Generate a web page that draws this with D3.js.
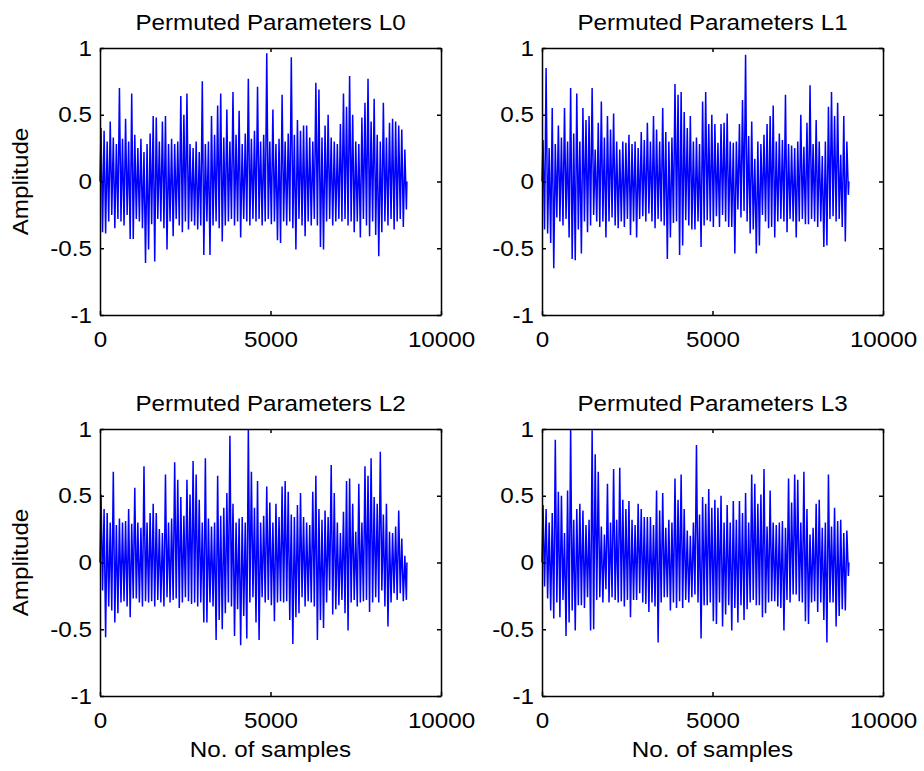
<!DOCTYPE html>
<html>
<head>
<meta charset="utf-8">
<script src="https://cdn.jsdelivr.net/npm/d3@7"></script>
<style>
  body { margin: 0; background: #fff; }
  text { font-family: "Liberation Sans", Arial, Helvetica, sans-serif; font-size: 22px; fill: #000; }
  .axis path, .axis line { stroke: #000; stroke-width: 1.5; }
</style>
</head>
<body>
<div id="chart"></div>
<script>
// Panel titles and axis labels
var titles = ["Permuted Parameters L0", "Permuted Parameters L1", "Permuted Parameters L2", "Permuted Parameters L3"];
var xLabel = "No. of samples", yLabel = "Amplitude";
var xTicks = [0, 5000, 10000];
var yTicks = [-1, -0.5, 0, 0.5, 1];

// Signal envelopes: one upward peak (hi) and one
// downward peak (lo) every 90 samples, 9000 samples in all.
var nSamples = 9000, spikeStep = 90;

var hiL0 = [0.40,0.38,0.30,0.45,0.33,0.28,0.70,0.32,0.47,0.30, 0.66,0.35,0.25,0.32,0.22,0.28,0.36,0.49,0.48,0.30,
            0.45,0.49,0.28,0.32,0.28,0.30,0.64,0.50,0.66,0.28, 0.25,0.30,0.22,0.75,0.28,0.30,0.49,0.35,0.57,0.66,
            0.33,0.54,0.30,0.67,0.35,0.53,0.28,0.36,0.77,0.32, 0.38,0.71,0.30,0.35,0.96,0.30,0.54,0.28,0.32,0.65,
            0.30,0.36,0.93,0.35,0.46,0.38,0.42,0.42,0.33,0.30, 0.74,0.69,0.33,0.42,0.50,0.33,0.30,0.28,0.43,0.66,
            0.56,0.79,0.50,0.30,0.28,0.48,0.59,0.77,0.45,0.62, 0.35,0.30,0.59,0.33,0.44,0.47,0.45,0.42,0.39,0.24];
var loL0 = [-0.38,-0.39,-0.30,-0.25,-0.35,-0.28,-0.30,-0.33,-0.25,-0.43, -0.43,-0.28,-0.30,-0.35,-0.61,-0.51,-0.32,-0.60,-0.28,-0.30,
            -0.35,-0.51,-0.30,-0.41,-0.28,-0.33,-0.38,-0.30,-0.36,-0.30, -0.33,-0.36,-0.33,-0.55,-0.30,-0.55,-0.33,-0.30,-0.35,-0.45,
            -0.33,-0.30,-0.28,-0.33,-0.30,-0.42,-0.28,-0.30,-0.33,-0.28, -0.30,-0.28,-0.33,-0.30,-0.28,-0.32,-0.30,-0.44,-0.46,-0.30,
            -0.33,-0.30,-0.35,-0.51,-0.28,-0.33,-0.41,-0.30,-0.33,-0.28, -0.33,-0.49,-0.51,-0.30,-0.28,-0.33,-0.30,-0.28,-0.30,-0.28,
            -0.33,-0.30,-0.38,-0.30,-0.42,-0.28,-0.33,-0.41,-0.30,-0.40, -0.56,-0.38,-0.30,-0.33,-0.28,-0.36,-0.30,-0.28,-0.34,-0.21];

var hiL1 = [0.31,0.85,0.25,0.55,0.28,0.42,0.33,0.55,0.30,0.70, 0.36,0.66,0.30,0.55,0.46,0.49,0.70,0.24,0.44,0.60,
            0.33,0.49,0.39,0.51,0.30,0.24,0.30,0.29,0.35,0.28, 0.30,0.25,0.37,0.31,0.44,0.30,0.49,0.39,0.30,0.55,
            0.37,0.30,0.33,0.73,0.65,0.67,0.52,0.40,0.49,0.30, 0.33,0.28,0.60,0.67,0.43,0.50,0.43,0.29,0.43,0.44,
            0.51,0.30,0.29,0.30,0.43,0.61,0.95,0.34,0.45,0.17, 0.30,0.28,0.35,0.43,0.49,0.57,0.30,0.36,0.31,0.65,
            0.28,0.27,0.25,0.30,0.50,0.26,0.44,0.72,0.28,0.46, 0.30,0.19,0.30,0.56,0.67,0.49,0.59,0.20,0.49,0.30];
var loL1 = [-0.36,-0.39,-0.46,-0.65,-0.27,-0.30,-0.33,-0.28,-0.42,-0.58, -0.59,-0.36,-0.54,-0.30,-0.38,-0.33,-0.25,-0.30,-0.34,-0.30,
            -0.42,-0.30,-0.27,-0.33,-0.35,-0.30,-0.34,-0.28,-0.40,-0.30, -0.42,-0.28,-0.26,-0.30,-0.24,-0.30,-0.35,-0.28,-0.30,-0.33,
            -0.58,-0.42,-0.31,-0.30,-0.55,-0.48,-0.29,-0.33,-0.36,-0.36, -0.30,-0.49,-0.33,-0.29,-0.30,-0.34,-0.26,-0.34,-0.25,-0.30,
            -0.34,-0.34,-0.54,-0.21,-0.27,-0.22,-0.30,-0.39,-0.36,-0.54, -0.48,-0.25,-0.30,-0.35,-0.34,-0.42,-0.30,-0.28,-0.30,-0.38,
            -0.28,-0.30,-0.42,-0.30,-0.28,-0.32,-0.32,-0.28,-0.30,-0.34, -0.30,-0.49,-0.48,-0.28,-0.26,-0.30,-0.28,-0.34,-0.45,-0.10];

var hiL2 = [0.51,0.40,0.37,0.30,0.68,0.28,0.33,0.30,0.31,0.40, 0.29,0.56,0.30,0.26,0.72,0.30,0.37,0.44,0.37,0.25,
            0.22,0.66,0.30,0.33,0.75,0.62,0.49,0.35,0.62,0.51, 0.76,0.66,0.47,0.30,0.78,0.33,0.27,0.30,0.65,0.35,
            0.41,0.52,0.95,0.44,0.30,0.33,0.34,0.30,1.00,0.68, 0.41,0.61,0.30,0.35,0.57,0.45,0.30,0.44,0.34,0.57,
            0.61,0.53,0.36,0.34,0.43,0.52,0.34,0.30,0.28,0.53, 0.65,0.40,0.32,0.39,0.34,0.73,0.52,0.30,0.22,0.38,
            0.61,0.63,0.44,0.23,0.59,0.30,0.72,0.65,0.78,0.49, 0.44,0.83,0.36,0.44,0.23,0.22,0.27,0.39,0.18,0.05];
var loL2 = [-0.21,-0.56,-0.33,-0.36,-0.45,-0.38,-0.30,-0.29,-0.33,-0.41, -0.27,-0.27,-0.30,-0.33,-0.29,-0.30,-0.29,-0.33,-0.28,-0.30,
            -0.33,-0.26,-0.30,-0.28,-0.27,-0.34,-0.30,-0.26,-0.29,-0.31, -0.30,-0.33,-0.30,-0.45,-0.45,-0.30,-0.33,-0.58,-0.43,-0.50,
            -0.38,-0.30,-0.33,-0.55,-0.35,-0.62,-0.40,-0.57,-0.30,-0.26, -0.45,-0.58,-0.26,-0.30,-0.28,-0.32,-0.44,-0.30,-0.29,-0.30,
            -0.29,-0.43,-0.61,-0.41,-0.38,-0.26,-0.33,-0.29,-0.30,-0.33, -0.58,-0.43,-0.49,-0.30,-0.21,-0.39,-0.35,-0.32,-0.28,-0.38,
            -0.51,-0.30,-0.28,-0.33,-0.30,-0.29,-0.28,-0.37,-0.30,-0.26, -0.30,-0.21,-0.33,-0.48,-0.30,-0.23,-0.28,-0.23,-0.29,-0.28];

var hiL3 = [0.43,0.40,0.30,0.37,0.92,0.53,0.50,0.22,0.54,1.00, 0.32,0.40,0.44,0.39,0.28,0.32,0.99,0.81,0.68,0.27,
            0.21,0.59,0.30,0.70,0.32,0.71,0.47,0.40,0.46,0.32, 0.28,0.44,0.40,0.34,0.34,0.34,0.28,0.54,0.39,0.52,
            0.26,0.32,0.30,0.63,0.47,0.66,0.40,0.24,0.20,0.30, 0.88,0.36,0.49,0.44,0.55,0.41,0.47,0.41,0.50,0.30,
            0.43,0.30,0.46,0.32,0.46,0.37,0.52,0.30,0.66,0.59, 0.44,0.51,0.70,0.27,0.54,0.30,0.28,0.30,0.31,0.26,
            0.63,0.45,0.66,0.62,0.30,0.68,0.40,0.21,0.26,0.44, 0.47,0.26,0.30,0.66,0.27,0.41,0.31,0.32,0.22,0.24];
var loL3 = [-0.18,-0.27,-0.36,-0.42,-0.30,-0.41,-0.28,-0.55,-0.45,-0.36, -0.51,-0.32,-0.32,-0.34,-0.26,-0.51,-0.50,-0.28,-0.26,-0.30,
            -0.20,-0.30,-0.26,-0.28,-0.30,-0.29,-0.33,-0.28,-0.41,-0.28, -0.28,-0.23,-0.30,-0.31,-0.37,-0.30,-0.33,-0.60,-0.30,-0.26,
            -0.26,-0.36,-0.30,-0.34,-0.29,-0.34,-0.28,-0.30,-0.26,-0.24, -0.30,-0.57,-0.32,-0.32,-0.30,-0.44,-0.46,-0.30,-0.48,-0.39,
            -0.32,-0.51,-0.34,-0.45,-0.32,-0.43,-0.35,-0.30,-0.28,-0.32, -0.32,-0.41,-0.38,-0.30,-0.29,-0.29,-0.33,-0.34,-0.51,-0.28,
            -0.30,-0.24,-0.24,-0.29,-0.30,-0.44,-0.46,-0.30,-0.29,-0.37, -0.30,-0.43,-0.60,-0.30,-0.30,-0.48,-0.40,-0.35,-0.36,-0.10];

// Layout
var W = 924, H = 771;
var plotW = 341, plotH = 267;
var panels = [
  {title: titles[0], hi: hiL0, lo: loL0, left: 100, top: 48,  yLab: true,  xLab: false},
  {title: titles[1], hi: hiL1, lo: loL1, left: 542, top: 48,  yLab: false, xLab: false},
  {title: titles[2], hi: hiL2, lo: loL2, left: 100, top: 429, yLab: true,  xLab: true},
  {title: titles[3], hi: hiL3, lo: loL3, left: 542, top: 429, yLab: false, xLab: true}
];
var txtScale = "scale(1.1,1)";

var svg = d3.select("#chart").append("svg")
    .attr("width", W)
    .attr("height", H);

var xScale = d3.scaleLinear().domain([0, 10000]).range([0, plotW]),
    yScale = d3.scaleLinear().domain([-1, 1]).range([plotH, 0]);

// peaks and troughs alternate, half a step apart
function signalPoints(hi, lo) {
  var pts = [[0, 0]];
  hi.forEach(function(h, k) {
    var s = 30 + k * spikeStep;
    pts.push([s, h], [s + spikeStep / 2, lo[k]]);
  });
  pts.push([nSamples, 0]);
  return pts;
}

var line = d3.line()
    .x(function(d) { return xScale(d[0]); })
    .y(function(d) { return yScale(d[1]); });

panels.forEach(function(p) {
  var g = svg.append("g").attr("transform", "translate(" + p.left + "," + p.top + ")");

  // signal
  g.append("path")
      .datum(signalPoints(p.hi, p.lo))
      .attr("d", line)
      .attr("fill", "none")
      .attr("stroke", "#0000ff")
      .attr("stroke-width", 1.5);

  // box axes with inward ticks
  g.append("g").attr("class", "axis").attr("transform", "translate(0," + plotH + ")")
      .call(d3.axisBottom(xScale).tickValues(xTicks).tickSize(-4).tickSizeOuter(0).tickPadding(16.5)
        .tickFormat(function(d) { return String(d); }));
  g.append("g").attr("class", "axis")
      .call(d3.axisTop(xScale).tickValues(xTicks).tickSize(-4).tickSizeOuter(0).tickFormat(""));
  g.append("g").attr("class", "axis")
      .call(d3.axisLeft(yScale).tickValues(yTicks).tickSize(-4).tickSizeOuter(0).tickPadding(7.3)
        .tickFormat(function(d) { return String(d); }));
  g.append("g").attr("class", "axis").attr("transform", "translate(" + plotW + ",0)")
      .call(d3.axisRight(yScale).tickValues(yTicks).tickSize(-4).tickSizeOuter(0).tickFormat(""));

  g.selectAll(".axis text")
      .attr("font-family", null).attr("font-size", null)
      .attr("transform", txtScale);

  // title
  g.append("text")
      .attr("text-anchor", "middle")
      .attr("transform", "translate(" + plotW / 2 + ",-18) " + txtScale)
      .text(p.title);

  if (p.yLab) {
    g.append("text")
        .attr("text-anchor", "middle")
        .attr("transform", "translate(" + (28 - p.left) + "," + plotH / 2 + ") rotate(-90) " + txtScale)
        .text(yLabel);
  }
  if (p.xLab) {
    g.append("text")
        .attr("text-anchor", "middle")
        .attr("transform", "translate(" + plotW / 2 + "," + (plotH + 61) + ") " + txtScale)
        .text(xLabel);
  }
});
</script>
</body>
</html>
